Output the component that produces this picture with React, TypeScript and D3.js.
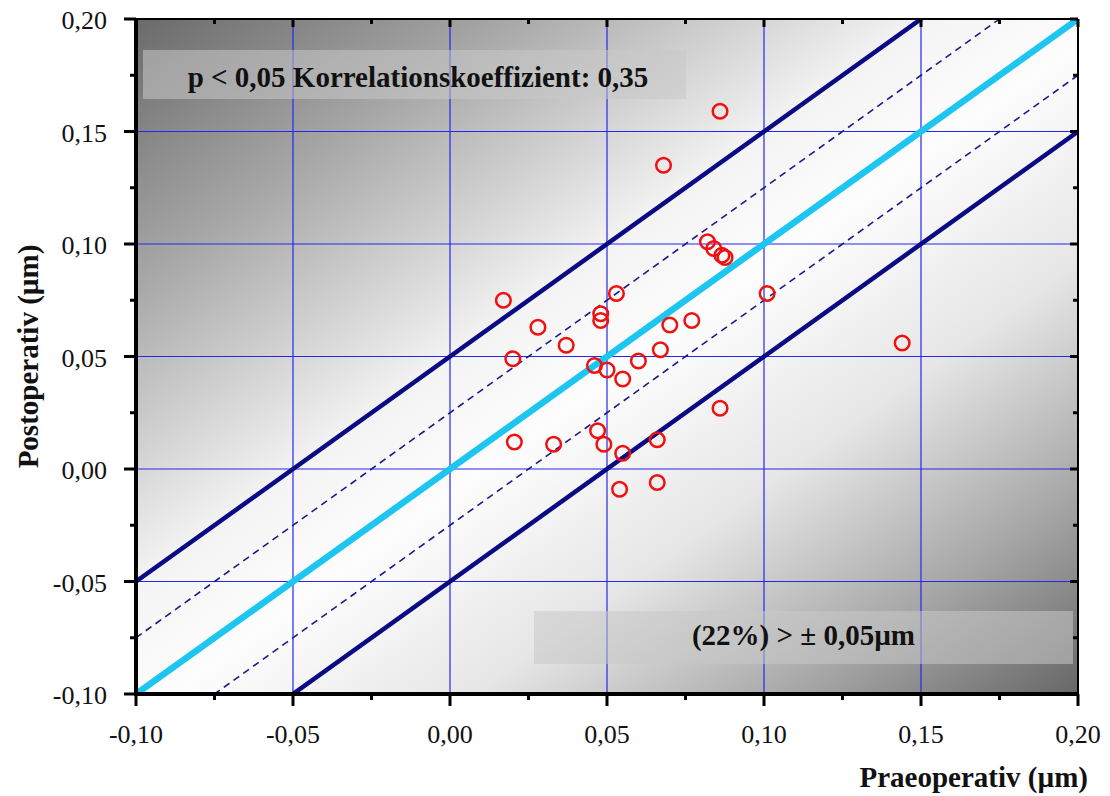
import * as d3 from 'd3';

// Praeoperativ (x) / Postoperativ (y) in µm
const praeValues = [
  0.086, 0.068, 0.082, 0.084, 0.0866, 0.0876, 0.101, 0.144, 0.017, 0.028,
  0.048, 0.048, 0.053, 0.037, 0.020, 0.046, 0.050, 0.055, 0.060, 0.067,
  0.070, 0.077, 0.086, 0.0205, 0.033, 0.047, 0.049, 0.055, 0.066, 0.054, 0.066,
];
const postValues = [
  0.159, 0.135, 0.101, 0.098, 0.095, 0.094, 0.078, 0.056, 0.075, 0.063,
  0.069, 0.066, 0.078, 0.055, 0.049, 0.046, 0.044, 0.040, 0.048, 0.053,
  0.064, 0.066, 0.027, 0.012, 0.011, 0.017, 0.011, 0.007, 0.013, -0.009, -0.006,
];
const majorTicks = [-0.1, -0.05, 0, 0.05, 0.1, 0.15, 0.2];
const minorTicks = [-0.075, -0.025, 0.025, 0.075, 0.125, 0.175];
const solidOffsets = [-0.05, 0.05];
const dashedOffsets = [-0.025, 0.025];

const W = 1110;
const H = 796;
const margin = { left: 136, right: 32, top: 19, bottom: 102 };
const fmt = (v: number) => d3.format('.2f')(v).replace('.', ',').replace('\u2212', '-');
const serif = '"Liberation Serif", "Times New Roman", serif';

export default function App() {
  const x = d3.scaleLinear().domain([-0.1, 0.2]).range([margin.left, W - margin.right]);
  const y = d3.scaleLinear().domain([-0.1, 0.2]).range([H - margin.bottom, margin.top]);
  const [x0, x1] = x.range();
  const [y0, y1] = y.range();
  const pw = x1 - x0;
  const ph = y0 - y1;
  const lineGen = d3.line<[number, number]>().x(d => x(d[0])).y(d => y(d[1]));
  const diag = (off: number) => lineGen([[-0.1, -0.1 + off], [0.2, 0.2 + off]]) ?? '';

  return (
    <svg width={W} height={H} style={{ position: 'absolute', left: 0, top: 0, background: '#fff' }}>
      <defs>
        <linearGradient id="bg" x1="0" y1="0" x2="1" y2="1">
          <stop offset="0%" stopColor="#6a6a6a" />
          <stop offset="20%" stopColor="#a8a8a8" />
          <stop offset="42%" stopColor="#f4f4f4" />
          <stop offset="52%" stopColor="#fdfdfd" />
          <stop offset="68%" stopColor="#e6e6e6" />
          <stop offset="85%" stopColor="#a6a6a6" />
          <stop offset="100%" stopColor="#676767" />
        </linearGradient>
        <clipPath id="plot">
          <rect x={x0} y={y1} width={pw} height={ph} />
        </clipPath>
      </defs>
      <rect x={x0} y={y1} width={pw} height={ph} fill="url(#bg)" />

      {/* grid */}
      <g stroke="#2626ee" strokeWidth={1.2}>
        {majorTicks.map(t => (
          <line key={'gx' + t} x1={x(t)} x2={x(t)} y1={y1} y2={y0} />
        ))}
        {majorTicks.map(t => (
          <line key={'gy' + t} x1={x0} x2={x1} y1={y(t)} y2={y(t)} />
        ))}
      </g>

      {/* text boxes */}
      <rect x={143} y={50} width={543} height={49} fill="#c8c8c8" opacity={0.55} />
      <text x={418} y={87} textAnchor="middle" fontFamily={serif} fontWeight="bold" fontSize={29} fill="#111">
        p &lt; 0,05 Korrelationskoeffizient: 0,35
      </text>
      <rect x={534} y={611} width={539} height={53} fill="#c8c8c8" opacity={0.55} />
      <text x={915} y={645} textAnchor="end" fontFamily={serif} fontWeight="bold" fontSize={29} fill="#111">
        (22%) &gt; ± 0,05µm
      </text>

      {/* reference lines */}
      <g clipPath="url(#plot)" fill="none">
        {dashedOffsets.map(o => (
          <path key={'d' + o} d={diag(o)} stroke="#1a1a8c" strokeWidth={1.6} strokeDasharray="7,5" />
        ))}
        {solidOffsets.map(o => (
          <path key={'s' + o} d={diag(o)} stroke="#0a0a85" strokeWidth={4.5} />
        ))}
        <path d={diag(0)} stroke="#1cc6f0" strokeWidth={6.5} />
      </g>

      {/* points */}
      <g fill="none" stroke="#f01010" strokeWidth={2.5}>
        {praeValues.map((v, i) => (
          <circle key={i} cx={x(v)} cy={y(postValues[i])} r={7.3} />
        ))}
      </g>

      {/* frame */}
      <line x1={x0} x2={x1} y1={y1} y2={y1} stroke="#000" strokeWidth={2} />
      <line x1={x1} x2={x1} y1={y1} y2={y0} stroke="#000" strokeWidth={2} />
      <line x1={x0} x2={x0} y1={y1 - 1} y2={y0 + 2} stroke="#000" strokeWidth={4} />
      <line x1={x0 - 2} x2={x1 + 1} y1={y0} y2={y0} stroke="#000" strokeWidth={4} />

      {/* ticks */}
      <g stroke="#000" strokeWidth={3}>
        {majorTicks.map(t => (
          <g key={'t' + t}>
            <line x1={x(t)} x2={x(t)} y1={y0} y2={y0 + 12} />
            <line x1={x(t)} x2={x(t)} y1={y1} y2={y1 + 8} />
            <line x1={x0} x2={x0 - 12} y1={y(t)} y2={y(t)} />
            <line x1={x1} x2={x1 - 8} y1={y(t)} y2={y(t)} />
          </g>
        ))}
        {minorTicks.map(t => (
          <g key={'m' + t}>
            <line x1={x(t)} x2={x(t)} y1={y0} y2={y0 + 6} />
            <line x1={x(t)} x2={x(t)} y1={y1} y2={y1 + 5} />
            <line x1={x0} x2={x0 - 6} y1={y(t)} y2={y(t)} />
            <line x1={x1} x2={x1 - 5} y1={y(t)} y2={y(t)} />
          </g>
        ))}
      </g>

      {/* tick labels */}
      <g fontFamily={serif} fontSize={26} fill="#111">
        {majorTicks.map(t => (
          <text key={'lx' + t} x={x(t)} y={y0 + 49} textAnchor="middle">{fmt(t)}</text>
        ))}
        {majorTicks.map(t => (
          <text key={'ly' + t} x={x0 - 29} y={y(t) + 10} textAnchor="end">{fmt(t)}</text>
        ))}
      </g>

      {/* axis titles */}
      <text x={1088} y={787} textAnchor="end" fontFamily={serif} fontWeight="bold" fontSize={29} fill="#111">
        Praeoperativ (µm)
      </text>
      <text transform={`translate(38, ${(y0 + y1) / 2}) rotate(-90)`} textAnchor="middle" fontFamily={serif} fontWeight="bold" fontSize={29} fill="#111">
        Postoperativ (µm)
      </text>
    </svg>
  );
}
